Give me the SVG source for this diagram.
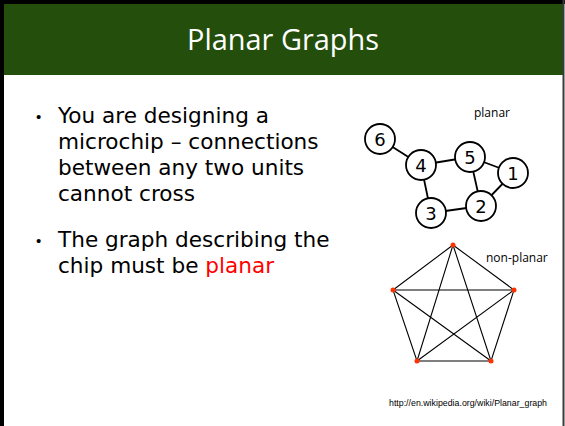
<svg xmlns="http://www.w3.org/2000/svg" width="565" height="426" viewBox="0 0 565 426">
<style>
.body{font-family:"DejaVu Sans","Verdana",sans-serif;font-size:21.6px;fill:#000}
.bul{font-family:"Liberation Sans",sans-serif;font-size:15px;fill:#000}
.small{font-family:"Open Sans","DejaVu Sans",sans-serif;font-size:12px;fill:#000}
.node circle{fill:#fff;stroke:#000;stroke-width:1.8}
.node text{font-family:"DejaVu Sans",sans-serif;font-size:18px;text-anchor:middle;fill:#000}
.edge{stroke:#000;stroke-width:1.8}
.k5e{stroke:#000;stroke-width:1.1}
.k5v{fill:#ff3300}
</style>
<rect x="0" y="0" width="565" height="426" fill="#fff"/>
<rect x="4" y="4" width="559" height="71" fill="#234e0c"/>
<path d="M2,0 V426 M0,2 H565" stroke="#000" stroke-width="4" fill="none"/>
<path d="M563.5,0 V426" stroke="#3a3a3a" stroke-width="2" fill="none"/>
<text x="283" y="50" font-family="'Open Sans','DejaVu Sans',sans-serif" font-size="30" fill="#fff" text-anchor="middle" textLength="192" lengthAdjust="spacingAndGlyphs">Planar Graphs</text>
<g id="bullets">
<text class="bul" x="36" y="122">•</text>
<text class="body" x="58" y="123">You are designing a</text>
<text class="body" x="58" y="149">microchip – connections</text>
<text class="body" x="58" y="175">between any two units</text>
<text class="body" x="58" y="201">cannot cross</text>
<text class="bul" x="36" y="246">•</text>
<text class="body" x="58" y="247">The graph describing the</text>
<text class="body" x="58" y="273">chip must be <tspan fill="#ff0000">planar</tspan></text>
</g>
<text class="small" x="474" y="117">planar</text>
<g id="connectors">
<line class="edge" x1="380" y1="139" x2="421" y2="165"/>
<line class="edge" x1="421" y1="165" x2="470" y2="157"/>
<line class="edge" x1="421" y1="165" x2="431" y2="213"/>
<line class="edge" x1="431" y1="213" x2="481" y2="206"/>
<line class="edge" x1="470" y1="157" x2="481" y2="206"/>
<line class="edge" x1="470" y1="157" x2="513" y2="173"/>
<line class="edge" x1="513" y1="173" x2="481" y2="206"/>
</g>
<g id="n6" class="node"><circle cx="380" cy="139" r="15"/><text x="380" y="145.5">6</text></g>
<g id="n4" class="node"><circle cx="421" cy="165" r="15"/><text x="421" y="171.5">4</text></g>
<g id="n5" class="node"><circle cx="470" cy="157" r="15"/><text x="470" y="163.5">5</text></g>
<g id="n1" class="node"><circle cx="513" cy="173" r="15"/><text x="513" y="179.5">1</text></g>
<g id="n2" class="node"><circle cx="481" cy="206" r="15"/><text x="481" y="212.5">2</text></g>
<g id="n3" class="node"><circle cx="431" cy="213" r="15"/><text x="431" y="219.5">3</text></g>
<g id="k5-edges">
<path class="k5e" fill="none" d="M453,245 L393,290 L417,361 L491,361 L514,290 Z M453,245 L417,361 M453,245 L491,361 M393,290 L514,290 M393,290 L491,361 M514,290 L417,361"/>
</g>
<g id="k5-nodes">
<circle class="k5v" cx="453" cy="245" r="2.5"/>
<circle class="k5v" cx="393" cy="290" r="2.5"/>
<circle class="k5v" cx="514" cy="290" r="2.5"/>
<circle class="k5v" cx="417" cy="361" r="2.5"/>
<circle class="k5v" cx="491" cy="361" r="2.5"/>
</g>
<text class="small" x="486" y="262">non-planar</text>
<text x="389" y="406" font-family="'Liberation Sans',sans-serif" font-size="9.5" fill="#000" textLength="158" lengthAdjust="spacingAndGlyphs">http://en.wikipedia.org/wiki/Planar_graph</text>
</svg>
